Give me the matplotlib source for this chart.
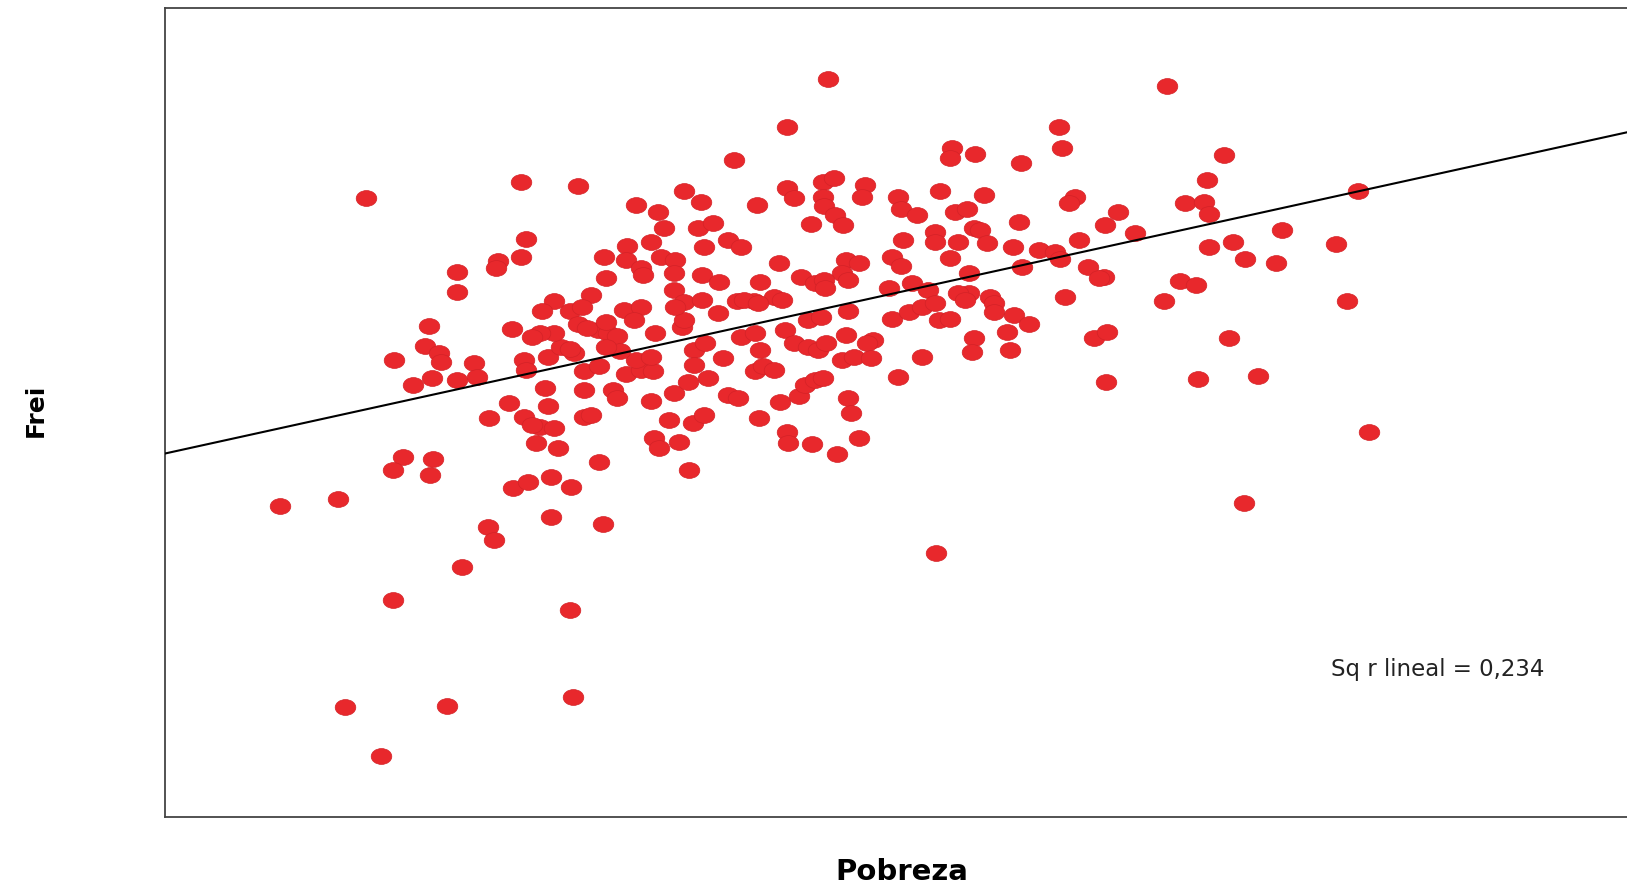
import matplotlib
matplotlib.use("Agg")
import matplotlib.pyplot as plt
import numpy as np
from matplotlib.path import Path
from matplotlib.transforms import Affine2D

# valores (unidades arbitrarias, el original no tiene ticks)
# (Pobreza, Frei)
puntos = [
    (797, 724), (1123, 717), (757, 677), (1019, 677), (1022, 657), (916, 657),
    (914, 648), (938, 651), (706, 646), (982, 643), (1177, 650), (1161, 626),
    (352, 609), (501, 624), (556, 621), (1306, 616), (658, 616), (757, 619),
    (764, 609), (792, 624), (802, 628), (792, 610), (832, 622), (829, 610),
    (864, 610), (867, 598), (882, 593), (904, 616), (947, 612), (612, 602),
    (633, 596), (674, 605), (728, 602), (1034, 610), (1028, 604), (1140, 604),
    (1158, 605), (1163, 594), (1075, 596), (1063, 583), (1092, 575), (919, 596),
    (930, 598), (980, 586), (793, 601), (803, 593), (811, 583), (780, 584),
    (639, 580), (672, 580), (686, 585), (677, 562), (700, 569), (713, 562),
    (626, 567), (603, 563), (581, 552), (602, 549), (617, 542), (619, 535),
    (636, 552), (649, 549), (648, 537), (583, 532), (675, 535), (692, 528),
    (749, 546), (771, 533), (784, 527), (648, 520), (569, 516), (506, 570),
    (501, 552), (479, 548), (477, 542), (440, 538), (440, 519), (1233, 578),
    (1163, 562), (1186, 567), (1198, 550), (1227, 546), (1285, 565), (1062, 533),
    (1135, 529), (1150, 525), (1120, 510), (1296, 510), (869, 569), (899, 576),
    (899, 567), (922, 567), (937, 580), (943, 578), (949, 566), (974, 562),
    (999, 559), (1015, 557), (1020, 550), (1038, 569), (1047, 543), (1057, 532),
    (914, 551), (983, 543), (814, 549), (826, 546), (810, 537), (816, 530),
    (858, 552), (867, 544), (855, 522), (877, 527), (893, 520), (932, 537),
    (932, 518), (922, 518), (952, 514), (1024, 514), (793, 530), (731, 528),
    (745, 514), (709, 510), (725, 510), (658, 509), (794, 522),
]

puntos_centro = [
    (524, 426), (527, 409), (562, 424), (590, 424), (594, 416), (626, 414),
    (648, 421), (662, 432), (681, 436), (700, 419), (710, 416), (750, 413),
    (769, 418), (774, 429), (784, 434), (731, 463), (696, 455), (726, 442),
    (734, 447), (745, 443), (668, 463), (668, 448), (678, 469), (602, 440),
    (617, 443), (628, 442), (612, 453), (626, 456), (562, 442), (576, 447),
    (527, 456), (540, 466), (552, 460), (533, 479), (520, 479), (575, 482),
    (585, 479), (594, 476), (630, 479), (656, 485), (658, 492), (649, 504),
    (675, 511), (691, 498), (716, 511), (729, 508), (713, 475), (726, 479),
    (752, 511), (755, 482), (764, 469), (777, 466), (787, 463), (777, 492),
    (600, 501), (617, 504), (610, 492), (562, 398), (569, 400), (520, 389),
    (533, 388), (537, 368), (629, 378), (634, 368), (653, 374), (644, 395),
    (667, 392), (677, 400), (730, 397), (757, 384), (758, 373), (781, 372),
    (576, 355), (663, 347), (530, 340), (549, 331), (530, 302), (580, 295),
    (548, 500), (560, 504), (556, 488), (565, 484), (583, 490), (548, 464),
    (597, 462), (583, 466), (533, 510), (522, 500),
]

puntos_izq = [
    (413, 486), (493, 483), (512, 475), (409, 467), (422, 460), (424, 451),
    (379, 453), (456, 450), (459, 437), (504, 453), (506, 443), (397, 429),
    (416, 436), (440, 434), (490, 412), (471, 397), (504, 398), (512, 390),
    (516, 373), (388, 360), (378, 347), (417, 358), (414, 342), (270, 312),
    (325, 319), (494, 330), (508, 336), (470, 292), (475, 280),
    (445, 254), (378, 222), (332, 119), (430, 120), (367, 72), (548, 212),
    (551, 129),
]

puntos_der = [
    (816, 500), (858, 493), (874, 499), (887, 504), (899, 508), (903, 492),
    (914, 493), (928, 511), (956, 508), (956, 499), (975, 496), (990, 488),
    (969, 480), (1052, 474), (790, 494), (814, 477), (795, 469), (840, 472),
    (834, 469), (937, 474), (935, 461), (972, 463), (810, 453), (822, 456),
    (838, 455), (887, 456), (792, 436), (864, 437), (816, 416), (819, 402),
    (826, 378), (805, 363), (1064, 432), (1065, 480), (1182, 474), (1152, 435),
    (1210, 438), (1317, 384), (1197, 315), (900, 267),
]

todos = np.array(puntos + puntos_centro + puntos_izq + puntos_der)
pobreza = todos[:, 0]
frei = todos[:, 1]

# recta de ajuste lineal (extremos)
ajuste_x = [159, 1568]
ajuste_y = [363, 673]
r2_texto = "Sq r lineal = 0,234"

fig = plt.figure(figsize=(16.27, 8.89), dpi=100)
ax = fig.add_axes([165 / 1627, 72 / 889, 1 - 165 / 1627 + 0.002, 809 / 889])

# marcador eliptico (el original esta estirado en horizontal)
elipse = Path.unit_circle().transformed(Affine2D().scale(1.3, 1.0))
ax.scatter(pobreza, frei, s=220, marker=elipse, color="#e8282c",
           edgecolors="#d42227", linewidths=0.5, zorder=2)
ax.plot(ajuste_x, ajuste_y, color="black", lw=1.5, zorder=3)

ax.set_xlim(159, 1568)
ax.set_ylim(13, 792)
ax.set_xticks([])
ax.set_yticks([])
for lado in ["left", "bottom", "top"]:
    ax.spines[lado].set_color("#444444")
    ax.spines[lado].set_linewidth(1.3)
ax.spines["right"].set_visible(False)

ax.text(0.796, 0.182, r2_texto, transform=ax.transAxes, ha="left",
        va="center", fontsize=16.5, family="DejaVu Sans", color="#222222")

fig.text(0.022, 0.539, "Frei", rotation=90, ha="center", va="center",
         fontsize=18, fontweight="bold", family="DejaVu Sans")
fig.text(0.554, 0.019, "Pobreza", ha="center", va="center",
         fontsize=21, fontweight="bold", family="DejaVu Sans")

fig.savefig("out.png", dpi=100, facecolor="white")
